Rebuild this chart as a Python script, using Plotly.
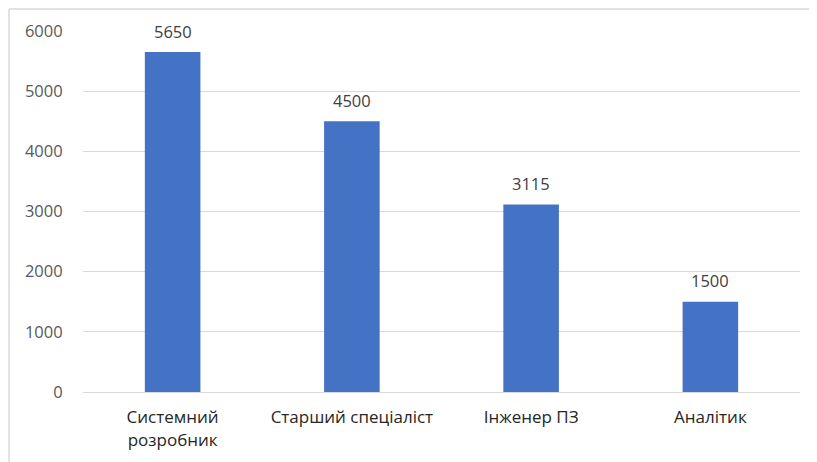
import plotly.graph_objects as go

categories = ["Системний розробник", "Старший спеціаліст", "Інженер ПЗ", "Аналітик"]
tick_labels = ["Системний<br>розробник", "Старший спеціаліст", "Інженер ПЗ", "Аналітик"]
values = [5650, 4500, 3115, 1500]
y_ticks = [0, 1000, 2000, 3000, 4000, 5000, 6000]

W, H = 817, 462
L, R, T, B = 75, 25, 23, 78
pw, ph = W - L - R, H - T - B

fig = go.Figure()
fig.add_trace(go.Bar(
    x=categories, y=values,
    marker=dict(color="#4472C4", line=dict(width=0)),
    hoverinfo="x+y",
))

for c, v in zip(categories, values):
    fig.add_annotation(x=c, y=v, text=str(v), showarrow=False,
                       yanchor="middle", yshift=21,
                       font=dict(family="Open Sans", size=16.5, color="#404040"))

fig.update_layout(
    width=W, height=H,
    margin=dict(l=L, r=R, t=T, b=B),
    paper_bgcolor="white", plot_bgcolor="white",
    font=dict(family="Open Sans", size=16.5, color="#595959"),
    bargap=0.69,
    showlegend=False,
    xaxis=dict(tickmode="array", tickvals=categories, ticktext=tick_labels,
               showgrid=False, showline=True, linecolor="#D9D9D9", linewidth=1,
               ticks="outside", ticklen=10, tickcolor="rgba(0,0,0,0)",
               tickfont=dict(family="Open Sans", size=17, color="#262626")),
    yaxis=dict(range=[0, 6000], tickvals=y_ticks, showgrid=True,
               gridcolor="#D9D9D9", gridwidth=1, zeroline=False,
               ticks="outside", ticklen=16, tickcolor="rgba(0,0,0,0)",
               tickfont=dict(family="Open Sans", size=16.5, color="#595959")),
    shapes=[
        dict(type="line", xref="paper", yref="paper",
             x0=-(L - 1) / pw, x1=1 + R / pw, y0=1 + (T - 1) / ph, y1=1 + (T - 1) / ph,
             line=dict(color="#D9D9D9", width=1.5)),
        dict(type="line", xref="paper", yref="paper",
             x0=-(L - 1) / pw, x1=-(L - 1) / pw, y0=1 + (T - 1) / ph, y1=-B / ph,
             line=dict(color="#D9D9D9", width=1.5)),
    ],
)

fig.write_html("out.html")
